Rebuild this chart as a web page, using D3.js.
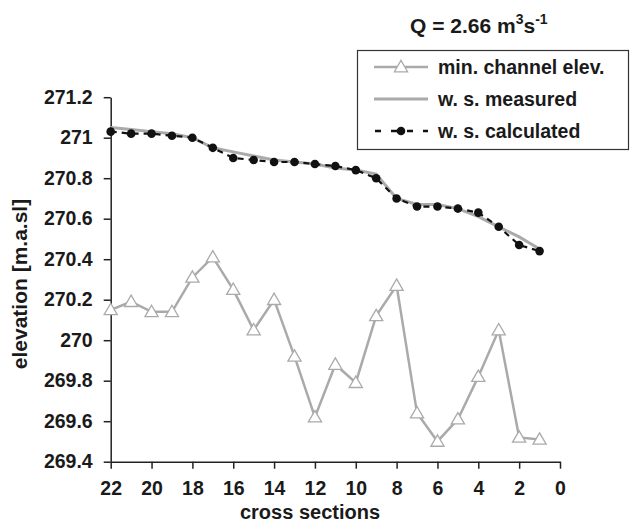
<!DOCTYPE html>
<html>
<head>
<meta charset="utf-8">
<script src="https://cdn.jsdelivr.net/npm/d3@7"></script>
<style>
  html, body { margin: 0; padding: 0; background: #fff; }
  svg { display: block; }
  text { font-family: "Liberation Sans", Arial, Helvetica, sans-serif; font-weight: bold; fill: #1a1a1a; }
</style>
</head>
<body>
<svg id="chart" width="630" height="528"></svg>
<script>
const sections = [22,21,20,19,18,17,16,15,14,13,12,11,10,9,8,7,6,5,4,3,2,1];
const minChannel = [270.15,270.19,270.14,270.14,270.31,270.41,270.25,270.05,270.20,269.92,269.62,269.88,269.79,270.12,270.27,269.64,269.50,269.61,269.82,270.05,269.52,269.51];
const wsMeasured = [271.05,271.04,271.03,271.02,271.00,270.95,270.93,270.91,270.89,270.88,270.87,270.85,270.84,270.82,270.70,270.67,270.67,270.65,270.61,270.56,270.51,270.45];
const wsCalculated = [271.03,271.02,271.02,271.01,271.00,270.95,270.90,270.89,270.88,270.88,270.87,270.86,270.84,270.80,270.70,270.66,270.66,270.65,270.63,270.56,270.47,270.44];
const xTicks = [22,20,18,16,14,12,10,8,6,4,2,0];
const yTicks = [269.4,269.6,269.8,270,270.2,270.4,270.6,270.8,271,271.2];
const legendLabels = ["min. channel elev.", "w. s. measured", "w. s. calculated"];

const svg = d3.select("#chart");
const x = d3.scaleLinear().domain([22, 0]).range([110.7, 560]);
const y = d3.scaleLinear().domain([269.4, 271.2]).range([461.7, 97.2]);

const axisColor = "#222";
const gray = "#aaaaaa";

// axes
const gx = svg.append("g").attr("transform", `translate(0,${y(269.4)})`)
  .call(d3.axisBottom(x).tickValues(xTicks).tickSize(7).tickSizeOuter(0).tickPadding(8).tickFormat(d3.format("d")));
const gy = svg.append("g").attr("transform", `translate(${x(22)},0)`)
  .call(d3.axisLeft(y).tickValues(yTicks).tickSize(7).tickSizeOuter(0).tickPadding(11).tickFormat(d => String(+d.toFixed(1))));
[gx, gy].forEach(g => {
  g.select(".domain").attr("stroke", axisColor).attr("stroke-width", 1.5);
  g.selectAll(".tick line").attr("stroke", axisColor).attr("stroke-width", 1.5);
  g.selectAll(".tick text").attr("fill", "#1a1a1a").style("font-size", "19.5px")
    .style("font-family", "'Liberation Sans', Arial, sans-serif").style("font-weight", "bold");
});
gx.selectAll(".tick text").attr("dy", "0.95em");

// axis titles
svg.append("text").attr("x", 310).attr("y", 519).attr("text-anchor", "middle")
  .style("font-size", "20px").text("cross sections");
svg.append("text").attr("transform", "translate(27,284) rotate(-90)").attr("text-anchor", "middle")
  .style("font-size", "21px").text("elevation [m.a.sl]");

// lines
const idx = d3.range(sections.length);
const line = arr => d3.line().x(i => x(sections[i])).y(i => y(arr[i]))(idx);

svg.append("path").attr("d", line(wsMeasured)).attr("fill", "none")
  .attr("stroke", gray).attr("stroke-width", 3);
svg.append("path").attr("d", line(wsCalculated)).attr("fill", "none")
  .attr("stroke", "#111").attr("stroke-width", 2.2).attr("stroke-dasharray", "6,5");
svg.append("g").selectAll("circle").data(idx).join("circle")
  .attr("cx", i => x(sections[i])).attr("cy", i => y(wsCalculated[i])).attr("r", 4.3).attr("fill", "#111");

svg.append("path").attr("d", line(minChannel)).attr("fill", "none")
  .attr("stroke", gray).attr("stroke-width", 2.5);
const tri = d3.symbol().type(d3.symbolTriangle).size(75);
svg.append("g").selectAll("path").data(idx).join("path")
  .attr("transform", i => `translate(${x(sections[i])},${y(minChannel[i]) + 1})`)
  .attr("d", tri).attr("fill", "#fff").attr("stroke", gray).attr("stroke-width", 1.3);

// title
const t = svg.append("text").attr("x", 410).attr("y", 33).style("font-size", "21px");
t.append("tspan").text("Q = 2.66 m");
t.append("tspan").attr("dy", -9).style("font-size", "14px").text("3");
t.append("tspan").attr("dy", 9).text("s");
t.append("tspan").attr("dy", -9).style("font-size", "14px").text("-1");

// legend
const lg = svg.append("g");
lg.append("rect").attr("x", 357.5).attr("y", 50.5).attr("width", 271).attr("height", 99)
  .attr("fill", "#fff").attr("stroke", "#333").attr("stroke-width", 1.2);
const rowY = [67, 99, 131];
// row 0
lg.append("line").attr("x1", 374).attr("x2", 428).attr("y1", rowY[0]).attr("y2", rowY[0])
  .attr("stroke", gray).attr("stroke-width", 2.5);
lg.append("path").attr("transform", `translate(401,${rowY[0] + 1})`).attr("d", tri)
  .attr("fill", "#fff").attr("stroke", gray).attr("stroke-width", 1.3);
// row 1
lg.append("line").attr("x1", 374).attr("x2", 428).attr("y1", rowY[1]).attr("y2", rowY[1])
  .attr("stroke", gray).attr("stroke-width", 3);
// row 2
lg.append("line").attr("x1", 375).attr("x2", 428).attr("y1", rowY[2]).attr("y2", rowY[2])
  .attr("stroke", "#111").attr("stroke-width", 2.6).attr("stroke-dasharray", "6,10");
lg.append("circle").attr("cx", 401).attr("cy", rowY[2]).attr("r", 4.3).attr("fill", "#111");
lg.selectAll("text.lbl").data(legendLabels).join("text").attr("class", "lbl")
  .attr("x", 438).attr("y", (d, i) => rowY[i]).attr("dy", "0.35em")
  .style("font-size", "19.5px").text(d => d);
</script>
</body>
</html>
